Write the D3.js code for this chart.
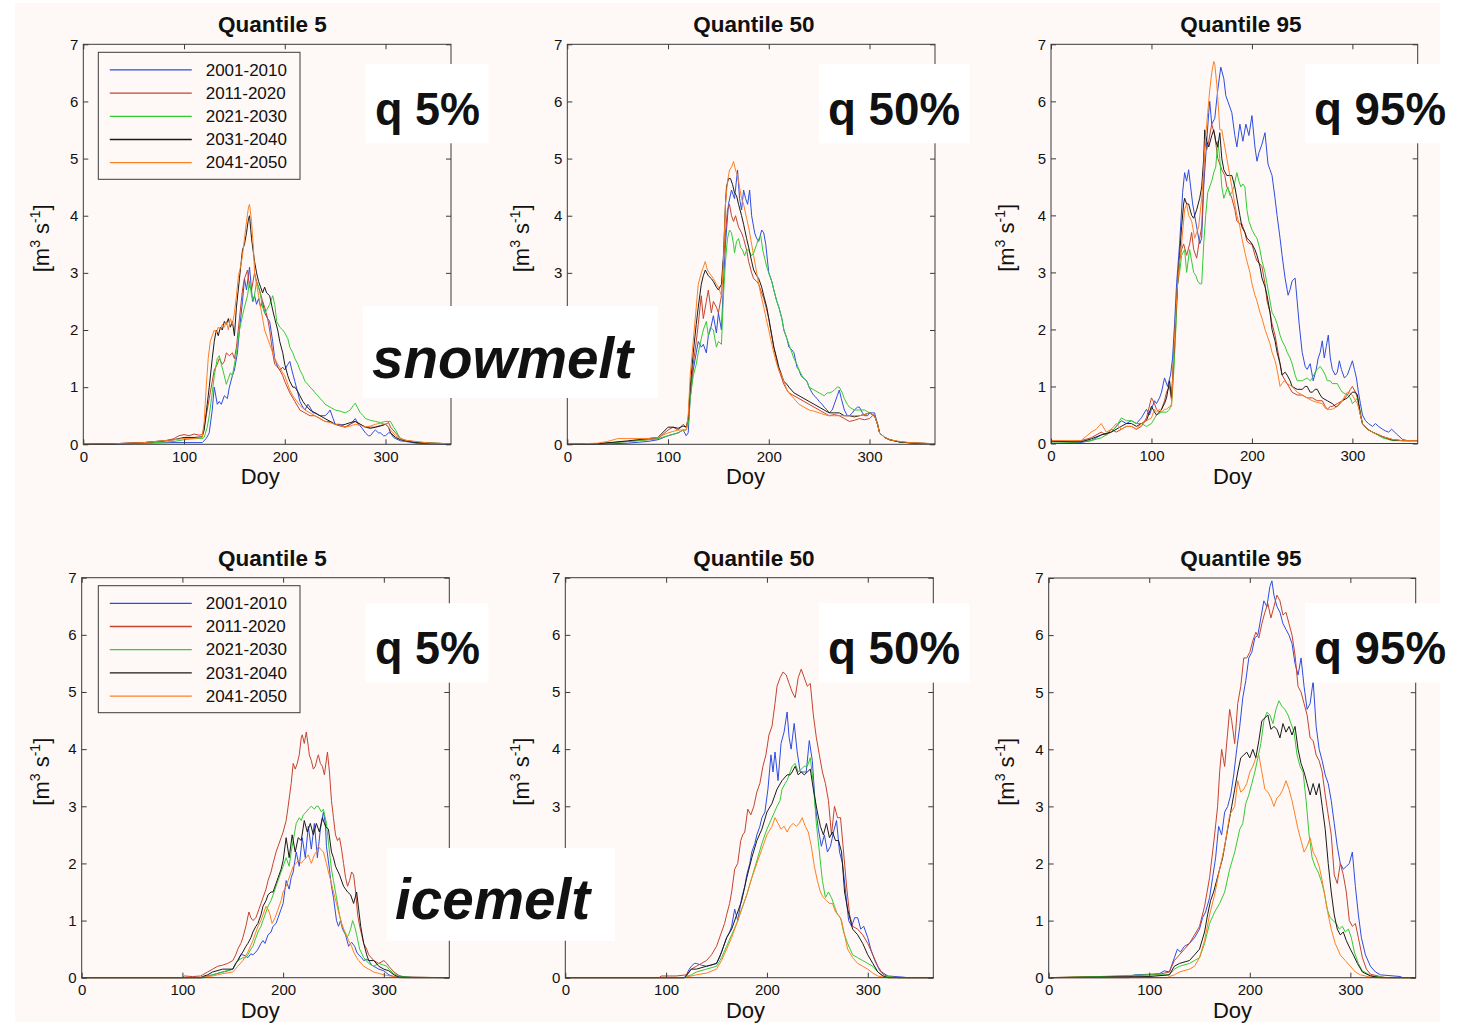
<!DOCTYPE html>
<html>
<head>
<meta charset="utf-8">
<script src="https://cdn.jsdelivr.net/npm/d3@7/dist/d3.min.js"></script>
<style>
  html, body { margin: 0; padding: 0; background: #ffffff; }
  svg { display: block; }
  text { font-family: "Liberation Sans", Arial, sans-serif; fill: #111; }
</style>
</head>
<body>
<div id="chart"></div>
<script>
// decades shown in every panel
const periods = ['2001-2010', '2011-2020', '2021-2030', '2031-2040', '2041-2050']
const lineColors = ['#2d4de0', '#c5432f', '#33cc33', '#1a1a1a', '#ff8022']

const titles = ['Quantile 5', 'Quantile 50', 'Quantile 95']
const xTicks = [0, 100, 200, 300]
const yTicks = [0, 1, 2, 3, 4, 5, 6, 7]
const tags = ['q 5%', 'q 50%', 'q 95%']
const rowLabels = ['snowmelt', 'icemelt']

// [day of year, discharge m3/s] per decade
const snowQ5 = [
  [[0,0],[30,0],[60,0.02],[90,0.03],[110,0.03],[118,0.03],[122,0.1],[125,0.2],[128,0.6],[130,1.0],[133,0.7],[135,0.75],[137,0.7],[140,0.85],[143,0.8],[145,1.0],[148,1.2],[150,1.3],[153,1.6],[155,2.0],[158,2.5],[160,2.9],[162,2.7],[165,3.1],[168,2.5],[170,2.6],[172,2.45],[174,2.55],[176,2.4],[178,2.5],[180,2.3],[183,2.2],[185,2.15],[188,1.8],[190,1.5],[193,1.35],[195,1.3],[198,1.35],[200,1.3],[203,1.4],[205,1.45],[207,1.3],[210,1.1],[213,0.9],[215,0.75],[218,0.65],[220,0.6],[223,0.7],[225,0.65],[228,0.55],[230,0.55],[235,0.5],[240,0.5],[243,0.55],[245,0.6],[248,0.45],[250,0.35],[255,0.35],[260,0.3],[265,0.35],[270,0.45],[273,0.35],[276,0.3],[280,0.2],[283,0.15],[285,0.15],[288,0.22],[290,0.25],[293,0.2],[295,0.2],[298,0.15],[300,0.15],[303,0.2],[305,0.2],[308,0.12],[310,0.1],[315,0.06],[320,0.05],[330,0.02],[340,0.01],[365,0]],
  [[0,0],[30,0.01],[60,0.03],[80,0.05],[90,0.1],[95,0.15],[100,0.17],[105,0.15],[110,0.18],[115,0.16],[118,0.17],[120,0.3],[123,0.6],[125,0.8],[128,1.1],[130,1.3],[133,1.4],[135,1.5],[138,1.4],[140,1.45],[142,1.6],[145,1.55],[148,1.6],[150,1.5],[152,1.7],[155,2.2],[158,2.7],[160,2.9],[163,3.05],[165,2.75],[167,2.7],[170,3.0],[172,2.85],[175,2.7],[178,2.5],[180,2.4],[183,2.2],[185,2.0],[188,1.6],[190,1.4],[193,1.35],[195,1.3],[198,1.2],[200,1.1],[205,0.9],[210,0.75],[215,0.6],[220,0.55],[225,0.5],[230,0.5],[235,0.45],[240,0.4],[245,0.4],[250,0.35],[255,0.32],[260,0.3],[265,0.35],[270,0.4],[275,0.35],[280,0.3],[285,0.3],[290,0.3],[295,0.33],[300,0.35],[303,0.38],[305,0.3],[310,0.2],[315,0.1],[320,0.07],[330,0.04],[345,0.02],[365,0.01]],
  [[0,0],[30,0.01],[60,0.02],[90,0.05],[100,0.08],[110,0.1],[118,0.1],[120,0.12],[123,0.3],[125,0.5],[128,0.9],[130,1.2],[133,1.5],[135,1.55],[137,1.4],[140,1.2],[142,1.05],[144,1.15],[146,1.25],[148,1.2],[150,1.4],[152,1.6],[155,2.0],[158,2.25],[160,2.4],[163,2.6],[165,2.85],[167,2.6],[169,2.5],[172,2.85],[174,2.75],[176,2.6],[178,2.4],[180,2.3],[182,2.35],[185,2.45],[188,2.6],[190,2.45],[192,2.15],[195,2.05],[198,2.0],[200,1.95],[203,1.85],[205,1.7],[208,1.6],[210,1.5],[213,1.4],[215,1.3],[218,1.2],[220,1.1],[223,1.05],[225,1.0],[228,0.95],[230,0.9],[233,0.85],[235,0.8],[238,0.75],[240,0.7],[245,0.65],[250,0.6],[255,0.58],[260,0.55],[263,0.58],[265,0.6],[268,0.68],[270,0.72],[272,0.65],[275,0.55],[278,0.5],[280,0.45],[285,0.42],[290,0.4],[295,0.38],[300,0.4],[305,0.4],[308,0.3],[310,0.25],[313,0.15],[315,0.1],[320,0.07],[330,0.04],[345,0.02],[365,0.01]],
  [[0,0],[30,0.01],[60,0.03],[90,0.08],[100,0.12],[110,0.12],[118,0.13],[120,0.25],[123,0.7],[125,1.0],[128,1.5],[130,1.8],[132,2.0],[134,1.9],[136,2.05],[138,2.0],[140,2.15],[142,2.1],[144,2.2],[146,2.05],[148,2.15],[150,1.9],[152,2.4],[155,2.9],[158,3.4],[160,3.5],[162,3.7],[164,3.95],[165,4.0],[167,3.6],[170,3.2],[172,3.0],[174,2.85],[176,2.75],[178,2.65],[180,2.75],[182,2.65],[185,2.6],[188,2.35],[190,2.2],[193,2.0],[195,1.8],[198,1.6],[200,1.4],[203,1.2],[205,1.1],[208,1.0],[210,1.0],[213,0.92],[215,0.85],[218,0.75],[220,0.7],[225,0.6],[230,0.55],[235,0.5],[240,0.45],[245,0.4],[250,0.35],[255,0.33],[260,0.35],[265,0.38],[270,0.4],[275,0.35],[280,0.3],[285,0.28],[290,0.3],[295,0.32],[300,0.35],[303,0.3],[305,0.2],[310,0.12],[315,0.08],[320,0.06],[330,0.03],[345,0.02],[365,0.01]],
  [[0,0],[30,0.01],[60,0.03],[90,0.08],[100,0.1],[110,0.1],[118,0.12],[120,0.4],[122,1.0],[124,1.5],[126,1.8],[128,1.9],[130,2.0],[132,1.95],[134,2.05],[136,2.0],[138,2.1],[140,2.05],[142,2.15],[144,2.0],[146,2.2],[148,2.1],[150,2.3],[152,2.6],[154,2.95],[156,3.1],[158,3.3],[160,3.6],[162,3.9],[164,4.15],[165,4.2],[167,3.9],[169,3.4],[170,3.0],[172,2.8],[174,2.6],[176,2.4],[178,2.2],[180,2.0],[183,1.85],[185,1.75],[188,1.6],[190,1.5],[193,1.4],[195,1.35],[198,1.25],[200,1.2],[203,1.05],[205,0.95],[208,0.85],[210,0.8],[215,0.68],[220,0.6],[225,0.55],[230,0.5],[235,0.45],[240,0.4],[245,0.38],[250,0.35],[255,0.33],[260,0.3],[265,0.32],[270,0.35],[275,0.33],[280,0.3],[285,0.32],[290,0.35],[295,0.37],[300,0.35],[303,0.3],[305,0.25],[310,0.15],[315,0.1],[320,0.07],[330,0.05],[345,0.02],[365,0.01]]
]

const snowQ50 = [
  [[0,0],[30,0],[60,0.02],[80,0.05],[90,0.08],[100,0.15],[110,0.2],[115,0.25],[118,0.15],[120,0.2],[122,0.8],[125,1.3],[128,1.6],[130,1.8],[133,1.7],[135,1.75],[138,1.6],[140,1.9],[142,2.0],[145,2.25],[148,1.95],[150,2.3],[153,2.0],[155,2.8],[157,3.5],[160,4.2],[163,4.45],[166,4.3],[169,4.8],[171,4.3],[173,4.1],[175,4.45],[177,4.3],[179,4.2],[181,4.45],[183,4.0],[186,3.7],[188,3.6],[190,3.55],[193,3.75],[195,3.7],[197,3.5],[200,3.0],[203,2.85],[205,2.7],[208,2.5],[210,2.4],[213,2.2],[215,2.0],[218,1.85],[220,1.7],[223,1.65],[225,1.6],[228,1.35],[230,1.3],[232,1.2],[235,1.15],[238,1.1],[240,1.0],[243,0.9],[245,0.85],[248,0.8],[250,0.75],[253,0.7],[255,0.65],[258,0.6],[260,0.55],[263,0.6],[265,0.7],[268,0.85],[270,0.95],[272,0.8],[275,0.6],[278,0.5],[280,0.5],[283,0.55],[285,0.6],[288,0.65],[290,0.65],[293,0.55],[295,0.5],[298,0.5],[300,0.55],[303,0.55],[305,0.55],[308,0.35],[310,0.2],[315,0.12],[320,0.08],[330,0.04],[345,0.02],[365,0.01]],
  [[0,0],[30,0.01],[60,0.05],[80,0.08],[90,0.1],[100,0.25],[105,0.3],[110,0.25],[115,0.35],[118,0.3],[120,0.4],[122,0.9],[125,1.4],[128,1.8],[130,2.1],[133,2.6],[135,2.2],[138,2.5],[140,2.7],[143,2.3],[145,2.5],[148,2.4],[150,2.3],[153,2.6],[155,3.2],[157,3.7],[159,4.1],[161,4.2],[163,4.0],[165,3.9],[167,4.0],[170,3.8],[173,3.7],[175,3.6],[178,3.4],[180,3.2],[183,3.0],[185,2.9],[188,2.85],[190,2.8],[193,2.65],[195,2.55],[198,2.35],[200,2.2],[203,1.9],[205,1.7],[208,1.45],[210,1.3],[213,1.15],[215,1.05],[218,0.95],[220,0.9],[225,0.85],[230,0.8],[235,0.75],[240,0.7],[245,0.65],[250,0.6],[255,0.55],[260,0.5],[265,0.52],[270,0.5],[275,0.45],[280,0.4],[285,0.42],[290,0.45],[295,0.43],[300,0.45],[303,0.5],[305,0.5],[308,0.35],[310,0.2],[315,0.12],[320,0.08],[330,0.04],[345,0.02],[365,0.01]],
  [[0,0],[30,0.01],[60,0.05],[80,0.08],[90,0.1],[100,0.15],[110,0.2],[115,0.25],[118,0.25],[120,0.35],[122,0.8],[125,1.2],[128,1.4],[130,1.6],[133,1.85],[135,2.0],[138,2.15],[140,1.9],[142,2.05],[145,2.0],[148,1.7],[150,1.8],[153,1.75],[155,2.6],[157,3.2],[159,3.6],[161,3.75],[163,3.7],[165,3.5],[166,3.35],[168,3.55],[170,3.6],[172,3.45],[174,3.4],[176,3.3],[178,3.4],[180,3.4],[183,3.3],[185,3.35],[188,3.5],[190,3.6],[192,3.65],[194,3.4],[196,3.25],[198,3.1],[200,3.0],[203,2.85],[205,2.7],[208,2.5],[210,2.4],[213,2.2],[215,2.0],[218,1.85],[220,1.75],[223,1.6],[225,1.5],[228,1.4],[230,1.3],[233,1.2],[235,1.15],[238,1.1],[240,1.0],[245,0.95],[250,0.9],[255,0.85],[258,0.9],[260,0.9],[263,0.92],[265,0.95],[268,1.0],[270,1.0],[273,0.9],[275,0.8],[278,0.7],[280,0.65],[285,0.6],[290,0.6],[295,0.6],[300,0.55],[305,0.5],[308,0.35],[310,0.2],[315,0.12],[320,0.08],[330,0.04],[345,0.02],[365,0.01]],
  [[0,0],[30,0.01],[60,0.06],[80,0.1],[90,0.12],[100,0.3],[105,0.3],[110,0.28],[115,0.32],[118,0.3],[120,0.45],[122,1.0],[125,1.6],[128,2.1],[130,2.4],[133,2.8],[135,2.95],[137,3.05],[140,2.95],[143,2.9],[145,2.85],[148,2.75],[150,2.7],[153,2.8],[155,3.3],[157,4.2],[158,4.5],[160,4.65],[162,4.65],[164,4.55],[166,4.4],[168,4.35],[170,4.2],[173,4.0],[175,3.85],[178,3.6],[180,3.45],[183,3.2],[185,3.05],[188,2.95],[190,2.9],[193,2.75],[195,2.6],[198,2.4],[200,2.2],[203,1.9],[205,1.7],[208,1.5],[210,1.35],[213,1.2],[215,1.1],[218,1.05],[220,1.0],[225,0.9],[230,0.85],[235,0.8],[240,0.75],[245,0.7],[250,0.65],[255,0.6],[260,0.55],[265,0.55],[270,0.55],[275,0.5],[280,0.5],[285,0.48],[290,0.5],[295,0.52],[300,0.55],[305,0.5],[308,0.35],[310,0.2],[315,0.12],[320,0.08],[330,0.04],[345,0.02],[365,0.01]],
  [[0,0],[30,0.02],[40,0.05],[50,0.1],[60,0.1],[80,0.1],[90,0.12],[100,0.2],[110,0.25],[115,0.25],[118,0.25],[120,0.5],[122,1.2],[125,1.8],[128,2.4],[130,2.8],[133,3.0],[135,3.1],[137,3.2],[139,3.05],[141,3.0],[143,2.95],[145,2.9],[148,2.8],[150,2.75],[153,2.6],[155,3.2],[157,4.2],[159,4.6],[161,4.8],[163,4.85],[165,4.95],[167,4.8],[169,4.7],[171,4.5],[173,4.3],[175,4.2],[178,3.95],[180,3.8],[183,3.5],[185,3.3],[188,3.0],[190,2.8],[193,2.55],[195,2.4],[198,2.15],[200,2.0],[203,1.75],[205,1.6],[208,1.4],[210,1.3],[213,1.2],[215,1.1],[218,0.95],[220,0.9],[225,0.8],[230,0.7],[235,0.65],[240,0.6],[245,0.58],[250,0.55],[255,0.52],[260,0.5],[265,0.5],[270,0.5],[275,0.5],[280,0.5],[285,0.5],[290,0.5],[295,0.52],[300,0.55],[305,0.5],[308,0.35],[310,0.2],[315,0.12],[320,0.08],[330,0.05],[340,0.03],[365,0.01]]
]

const snowQ95 = [
  [[0,0.03],[20,0.03],[30,0.02],[40,0.05],[50,0.15],[60,0.2],[65,0.3],[70,0.4],[75,0.35],[80,0.4],[85,0.35],[90,0.45],[95,0.6],[98,0.5],[100,0.6],[103,0.75],[105,0.7],[108,0.8],[110,0.9],[113,1.15],[116,1.0],[119,1.2],[121,1.5],[123,2.1],[125,2.8],[128,3.5],[131,4.4],[133,4.75],[135,4.6],[137,4.8],[139,4.5],[141,4.2],[143,4.0],[146,3.7],[148,3.5],[150,3.6],[152,4.5],[155,5.3],[157,5.8],[158,6.0],[160,5.6],[163,5.7],[166,6.2],[169,6.6],[172,6.4],[174,6.1],[176,6.0],[178,5.9],[180,5.8],[183,5.4],[185,5.2],[188,5.6],[191,5.3],[194,5.6],[197,5.4],[200,5.75],[203,5.2],[205,4.95],[207,5.1],[210,5.25],[213,5.45],[216,4.9],[218,4.8],[220,4.7],[223,4.3],[225,4.0],[228,3.6],[230,3.3],[233,2.9],[236,2.6],[238,2.7],[240,2.85],[243,2.9],[245,2.5],[247,2.1],[250,1.6],[253,1.35],[255,1.3],[258,1.4],[261,1.1],[264,1.3],[266,1.5],[268,1.6],[270,1.8],[272,1.5],[274,1.7],[276,1.9],[278,1.5],[280,1.3],[283,1.2],[285,1.25],[287,1.45],[289,1.3],[292,1.15],[295,1.2],[298,1.35],[300,1.45],[302,1.3],[304,1.15],[306,0.9],[308,0.7],[310,0.5],[313,0.4],[316,0.35],[320,0.3],[323,0.35],[326,0.3],[330,0.25],[333,0.22],[336,0.2],[339,0.25],[342,0.2],[345,0.15],[350,0.07],[355,0.05],[365,0.05]],
  [[0,0.05],[20,0.04],[30,0.05],[40,0.1],[50,0.2],[55,0.15],[60,0.25],[65,0.2],[70,0.25],[75,0.3],[80,0.3],[85,0.25],[90,0.3],[95,0.45],[100,0.8],[103,0.7],[105,0.6],[108,0.55],[110,0.6],[113,0.75],[115,0.9],[118,1.0],[120,0.75],[122,1.3],[124,2.0],[126,2.8],[128,3.2],[130,3.4],[132,3.5],[135,3.3],[138,3.5],[140,3.7],[142,3.4],[145,3.25],[148,3.6],[150,3.8],[152,4.6],[153,5.3],[155,5.15],[157,5.3],[160,5.6],[163,5.4],[166,5.0],[168,4.9],[170,4.8],[173,4.7],[175,4.5],[178,4.4],[180,4.3],[183,4.1],[185,3.9],[188,3.85],[190,3.85],[193,3.7],[195,3.55],[198,3.5],[200,3.5],[203,3.3],[205,3.2],[208,3.15],[210,3.1],[213,2.8],[215,2.5],[218,2.3],[220,2.1],[223,1.9],[225,1.7],[228,1.4],[230,1.2],[235,1.05],[240,0.9],[245,0.85],[250,0.85],[255,0.8],[260,0.8],[265,0.75],[270,0.75],[273,0.65],[275,0.6],[278,0.65],[280,0.65],[285,0.7],[290,0.75],[295,0.85],[298,0.95],[300,1.0],[303,0.9],[305,0.8],[308,0.5],[310,0.35],[315,0.25],[320,0.2],[330,0.12],[340,0.07],[350,0.05],[365,0.05]],
  [[0,0.03],[20,0.02],[30,0.03],[40,0.05],[50,0.1],[60,0.2],[65,0.3],[70,0.45],[75,0.4],[80,0.4],[85,0.35],[90,0.35],[95,0.3],[100,0.35],[105,0.5],[110,0.55],[115,0.55],[118,0.6],[120,0.7],[122,1.2],[124,1.9],[126,2.8],[128,3.0],[130,3.3],[133,3.4],[135,3.0],[138,3.4],[140,3.2],[142,3.0],[144,2.95],[146,2.85],[148,2.8],[150,2.8],[152,3.5],[154,4.0],[156,4.4],[158,4.5],[160,4.6],[162,4.75],[164,4.85],[166,5.3],[168,5.0],[170,4.5],[172,4.3],[174,4.4],[176,4.5],[178,4.35],[180,4.4],[182,4.5],[185,4.75],[187,4.6],[189,4.5],[191,4.55],[193,4.5],[195,4.1],[197,3.9],[200,3.75],[203,3.65],[205,3.6],[208,3.4],[210,3.2],[213,3.0],[215,2.8],[218,2.5],[220,2.3],[223,2.2],[225,2.1],[228,1.9],[230,1.8],[233,1.7],[235,1.6],[238,1.5],[240,1.4],[243,1.2],[245,1.1],[250,1.1],[255,1.15],[258,1.1],[260,1.15],[263,1.25],[265,1.3],[268,1.35],[270,1.3],[273,1.2],[275,1.1],[278,1.1],[280,1.05],[285,1.05],[288,0.95],[290,0.9],[295,0.85],[298,0.8],[300,0.7],[303,0.75],[305,0.8],[308,0.55],[310,0.35],[315,0.25],[320,0.2],[330,0.1],[340,0.05],[365,0.05]],
  [[0,0.04],[20,0.03],[30,0.03],[40,0.08],[50,0.15],[60,0.2],[70,0.3],[75,0.35],[80,0.35],[85,0.3],[90,0.35],[95,0.4],[100,0.65],[103,0.55],[105,0.5],[108,0.55],[110,0.6],[113,0.7],[115,0.8],[118,1.1],[120,0.8],[122,1.5],[124,2.2],[126,2.8],[128,3.3],[130,3.8],[132,4.2],[133,4.3],[135,4.2],[137,4.2],[140,4.0],[142,3.95],[145,4.1],[148,4.3],[150,4.5],[152,5.0],[153,5.5],[155,5.3],[157,5.2],[160,5.4],[162,5.5],[164,5.3],[166,5.2],[168,5.45],[170,5.0],[172,4.8],[175,4.7],[178,4.7],[180,4.7],[183,4.5],[185,4.3],[188,4.0],[190,3.8],[193,3.7],[195,3.6],[198,3.55],[200,3.5],[203,3.4],[205,3.3],[208,3.1],[210,2.9],[213,2.75],[215,2.6],[218,2.3],[220,2.0],[223,1.8],[225,1.6],[228,1.4],[230,1.2],[233,1.25],[235,1.2],[238,1.1],[240,1.0],[245,0.95],[250,0.95],[253,1.0],[255,1.0],[258,0.9],[260,0.9],[263,0.95],[265,0.95],[268,0.85],[270,0.8],[275,0.75],[280,0.7],[283,0.65],[285,0.65],[290,0.75],[295,0.8],[300,0.9],[303,0.9],[305,0.85],[308,0.5],[310,0.35],[315,0.25],[320,0.2],[330,0.12],[340,0.06],[350,0.05],[365,0.05]],
  [[0,0.05],[20,0.05],[30,0.05],[40,0.2],[45,0.25],[50,0.35],[55,0.2],[60,0.25],[65,0.35],[70,0.25],[75,0.3],[80,0.3],[85,0.25],[90,0.35],[95,0.4],[100,0.45],[103,0.6],[105,0.55],[108,0.6],[110,0.55],[113,0.6],[115,0.6],[118,0.65],[120,0.65],[122,1.5],[124,2.2],[126,2.8],[128,3.2],[130,3.5],[132,3.9],[133,4.1],[135,4.2],[137,4.0],[140,3.9],[142,3.7],[143,3.6],[145,3.7],[147,3.8],[150,4.3],[152,4.8],[153,5.2],[155,5.6],[156,5.8],[158,6.2],[160,6.5],[162,6.7],[163,6.65],[165,6.3],[167,5.8],[168,5.5],[170,5.5],[172,5.3],[175,5.0],[178,4.7],[180,4.5],[183,4.2],[185,4.0],[188,3.8],[190,3.6],[193,3.35],[195,3.2],[198,3.0],[200,2.8],[203,2.6],[205,2.5],[208,2.3],[210,2.2],[213,2.0],[215,1.9],[218,1.75],[220,1.6],[223,1.45],[225,1.3],[228,1.0],[230,1.05],[232,1.1],[235,1.05],[240,1.0],[245,0.9],[250,0.85],[255,0.8],[260,0.75],[265,0.72],[270,0.7],[273,0.62],[275,0.6],[278,0.6],[280,0.6],[285,0.65],[290,0.75],[293,0.85],[295,0.9],[298,0.88],[300,0.85],[303,0.75],[305,0.7],[308,0.5],[310,0.35],[315,0.25],[320,0.2],[330,0.12],[340,0.07],[350,0.05],[365,0.05]]
]

const iceQ5 = [
  [[0,0],[120,0],[125,0.03],[130,0.05],[140,0.1],[145,0.12],[150,0.15],[153,0.25],[155,0.3],[158,0.4],[160,0.4],[163,0.38],[165,0.35],[168,0.42],[170,0.4],[173,0.45],[175,0.5],[178,0.6],[180,0.65],[182,0.6],[185,0.75],[188,0.8],[190,0.9],[193,0.95],[195,1.05],[198,1.2],[200,1.3],[203,1.7],[206,1.55],[208,1.75],[210,1.85],[213,2.2],[216,1.95],[219,2.45],[222,2.1],[225,2.65],[228,2.25],[231,2.7],[234,2.1],[237,2.6],[240,2.9],[242,2.7],[243,2.3],[246,1.9],[248,1.6],[250,1.4],[253,1.0],[255,0.9],[257,1.0],[259,0.85],[262,0.75],[265,0.55],[268,0.62],[271,0.55],[273,0.45],[275,0.4],[278,0.35],[280,0.3],[283,0.32],[285,0.3],[288,0.22],[290,0.2],[295,0.15],[300,0.12],[305,0.05],[310,0.02],[320,0],[365,0]],
  [[0,0],[100,0],[102,0.03],[110,0.02],[118,0.03],[120,0.05],[125,0.1],[130,0.15],[135,0.2],[140,0.22],[145,0.25],[150,0.3],[153,0.4],[155,0.5],[158,0.6],[160,0.7],[163,0.9],[166,1.15],[168,1.05],[170,1.0],[173,1.05],[176,1.2],[178,1.3],[180,1.4],[183,1.55],[185,1.7],[188,1.85],[190,2.0],[193,2.2],[195,2.3],[198,2.45],[200,2.55],[203,2.75],[205,3.0],[208,3.4],[210,3.75],[212,3.65],[214,3.75],[216,3.9],[218,4.2],[219,4.25],[221,4.1],[223,4.3],[225,4.05],[226,3.9],[228,3.8],[230,3.65],[232,3.7],[234,3.85],[235,3.9],[237,3.75],[239,3.7],[241,3.55],[244,3.95],[246,3.6],[248,3.1],[250,2.8],[252,2.5],[254,2.4],[256,2.45],[258,2.25],[260,2.0],[262,1.75],[264,1.6],[266,1.7],[268,1.85],[270,1.8],[272,1.5],[274,1.1],[276,0.9],[278,0.75],[280,0.6],[283,0.5],[285,0.4],[290,0.3],[295,0.25],[298,0.28],[300,0.3],[303,0.25],[305,0.2],[310,0.1],[315,0.04],[320,0.01],[365,0]],
  [[0,0],[120,0],[125,0.03],[130,0.05],[140,0.1],[150,0.15],[153,0.25],[155,0.3],[158,0.33],[160,0.35],[163,0.35],[165,0.4],[168,0.5],[170,0.55],[173,0.7],[175,0.8],[178,0.9],[180,1.0],[183,1.15],[185,1.25],[188,1.35],[190,1.45],[193,1.6],[195,1.7],[198,1.85],[200,1.95],[203,2.1],[206,1.95],[208,2.2],[210,2.4],[213,2.7],[216,2.8],[218,2.75],[220,2.85],[223,2.9],[225,2.95],[228,3.0],[231,2.95],[233,3.0],[235,3.0],[238,2.9],[240,2.95],[243,2.7],[246,2.2],[248,1.9],[250,1.7],[253,1.4],[256,1.1],[258,0.95],[260,0.85],[263,0.7],[265,0.75],[267,0.85],[269,1.0],[271,0.9],[273,0.75],[276,0.5],[280,0.35],[285,0.25],[290,0.2],[295,0.25],[300,0.22],[303,0.2],[305,0.15],[310,0.07],[315,0.03],[320,0.02],[325,0.01],[330,0],[365,0]],
  [[0,0],[118,0],[120,0.02],[125,0.05],[130,0.1],[140,0.15],[150,0.15],[153,0.25],[155,0.3],[158,0.4],[160,0.45],[163,0.55],[165,0.6],[168,0.7],[170,0.8],[173,0.9],[175,0.95],[178,1.1],[180,1.25],[183,1.35],[185,1.45],[188,1.5],[190,1.5],[193,1.65],[195,1.75],[198,1.9],[200,2.05],[203,2.45],[206,2.1],[209,2.5],[212,2.2],[215,2.45],[218,2.4],[221,2.75],[224,2.55],[227,2.7],[230,2.5],[233,2.7],[236,2.55],[239,2.8],[242,2.65],[245,2.6],[248,2.2],[250,2.1],[252,1.95],[256,1.8],[260,1.6],[262,1.55],[264,1.5],[267,1.45],[270,1.3],[273,1.5],[275,1.2],[277,0.9],[280,0.6],[283,0.4],[285,0.3],[290,0.3],[295,0.2],[300,0.15],[305,0.12],[310,0.05],[315,0.01],[365,0]],
  [[0,0],[120,0],[125,0.02],[130,0.03],[140,0.07],[150,0.1],[155,0.2],[160,0.3],[165,0.45],[170,0.65],[175,0.9],[178,1.0],[180,1.1],[183,1.25],[185,1.2],[187,1.1],[189,0.95],[192,1.05],[195,1.2],[198,1.35],[200,1.5],[203,1.6],[205,1.7],[208,1.85],[210,1.95],[213,2.0],[215,2.05],[218,2.0],[220,2.05],[223,2.1],[225,2.15],[227,2.05],[228,2.0],[231,2.15],[233,2.2],[235,2.3],[237,2.25],[240,2.2],[243,2.0],[245,1.85],[248,1.65],[250,1.5],[253,1.3],[255,1.15],[258,0.95],[260,0.85],[263,0.75],[265,0.65],[268,0.55],[270,0.45],[273,0.35],[275,0.3],[280,0.2],[285,0.15],[290,0.1],[300,0.05],[310,0.02],[315,0],[365,0]]
]

const iceQ50 = [
  [[0,0],[118,0],[120,0.05],[123,0.15],[125,0.2],[128,0.25],[130,0.25],[135,0.22],[140,0.2],[145,0.22],[150,0.25],[153,0.35],[155,0.45],[158,0.6],[160,0.7],[163,0.8],[165,0.9],[168,1.2],[171,1.0],[173,1.2],[175,1.4],[178,1.6],[180,1.8],[183,2.0],[185,2.2],[188,2.35],[190,2.5],[193,2.65],[195,2.8],[198,2.9],[201,3.3],[204,3.9],[206,3.6],[208,3.95],[211,3.45],[214,4.1],[217,4.3],[220,4.65],[222,4.2],[224,4.0],[227,4.45],[230,3.95],[233,3.6],[236,3.6],[239,3.6],[242,4.15],[245,3.8],[248,3.0],[251,2.6],[254,2.3],[257,2.5],[260,2.2],[263,2.3],[266,2.55],[269,2.75],[272,2.2],[275,2.0],[278,1.5],[281,1.0],[284,0.9],[287,1.05],[290,1.05],[293,0.85],[296,0.9],[300,0.7],[303,0.5],[307,0.3],[312,0.12],[320,0.03],[335,0.01],[340,0],[365,0]],
  [[0,0],[93,0],[95,0.03],[110,0.03],[120,0.05],[125,0.15],[130,0.2],[135,0.25],[140,0.3],[145,0.4],[150,0.55],[155,0.8],[158,0.95],[160,1.1],[163,1.3],[165,1.5],[168,1.9],[171,2.0],[174,2.4],[176,2.5],[178,2.55],[181,2.95],[184,2.85],[187,3.0],[190,3.25],[193,3.4],[196,3.7],[199,3.9],[202,4.25],[205,4.4],[208,4.8],[210,5.1],[213,5.25],[216,5.35],[219,5.3],[222,5.15],[225,5.0],[228,4.9],[231,5.25],[234,5.4],[237,5.25],[240,5.1],[243,5.15],[246,4.6],[249,4.2],[252,3.9],[255,3.6],[258,3.4],[261,3.1],[264,2.5],[267,3.0],[270,2.8],[273,2.8],[276,2.2],[279,1.6],[282,1.1],[285,0.9],[290,0.85],[295,0.75],[300,0.6],[305,0.4],[310,0.2],[315,0.06],[320,0.02],[330,0],[365,0]],
  [[0,0],[118,0],[120,0.02],[125,0.05],[130,0.1],[140,0.15],[150,0.2],[155,0.35],[160,0.55],[165,0.75],[170,0.95],[175,1.2],[180,1.45],[185,1.75],[190,2.05],[195,2.35],[200,2.6],[205,2.8],[210,3.0],[213,3.1],[215,3.3],[218,3.4],[220,3.45],[223,3.6],[225,3.7],[228,3.75],[231,3.6],[234,3.65],[237,3.7],[240,3.7],[243,3.85],[246,3.4],[249,2.7],[252,2.2],[255,1.7],[258,1.4],[261,1.5],[264,1.4],[267,1.25],[270,1.1],[273,1.05],[276,0.8],[280,0.6],[285,0.4],[290,0.35],[295,0.3],[300,0.25],[305,0.2],[310,0.1],[315,0.03],[325,0.01],[330,0],[365,0]],
  [[0,0],[118,0],[120,0.03],[125,0.15],[130,0.15],[140,0.2],[150,0.25],[155,0.45],[160,0.7],[165,0.85],[170,1.1],[175,1.35],[180,1.75],[185,2.1],[190,2.4],[195,2.6],[200,2.9],[205,3.05],[210,3.3],[215,3.45],[220,3.55],[223,3.55],[225,3.6],[228,3.7],[231,3.55],[234,3.6],[237,3.55],[240,3.6],[243,3.65],[246,3.3],[250,2.9],[253,2.65],[256,2.5],[259,2.7],[262,2.45],[265,2.55],[268,2.4],[271,2.4],[274,2.2],[277,1.5],[280,1.2],[285,0.85],[290,0.75],[295,0.6],[300,0.4],[305,0.25],[310,0.1],[315,0.03],[320,0],[365,0]],
  [[0,0],[118,0],[120,0.01],[130,0.05],[140,0.08],[150,0.15],[155,0.3],[160,0.5],[165,0.7],[170,0.95],[175,1.2],[180,1.45],[185,1.75],[190,2.0],[195,2.25],[200,2.5],[205,2.65],[208,2.8],[211,2.7],[214,2.6],[217,2.65],[220,2.55],[223,2.65],[226,2.7],[229,2.65],[232,2.7],[235,2.8],[238,2.65],[241,2.55],[244,2.3],[247,1.95],[250,1.7],[253,1.5],[256,1.4],[259,1.35],[262,1.3],[265,1.3],[268,1.15],[271,1.1],[274,1.0],[277,0.75],[280,0.5],[285,0.35],[290,0.25],[295,0.2],[300,0.15],[305,0.08],[310,0.03],[315,0.01],[320,0],[365,0]]
]

const iceQ95 = [
  [[0,0],[80,0],[85,0.05],[100,0.06],[110,0.07],[115,0.12],[120,0.1],[125,0.35],[128,0.5],[131,0.45],[135,0.55],[140,0.6],[145,0.7],[150,0.85],[153,1.05],[156,1.15],[160,1.4],[163,1.75],[166,2.1],[169,2.65],[172,2.5],[175,2.9],[178,3.0],[181,3.2],[184,3.55],[187,4.0],[190,4.4],[193,4.9],[196,5.2],[199,5.6],[202,5.7],[205,5.95],[208,6.0],[211,6.3],[214,6.6],[217,6.5],[220,6.85],[222,6.95],[224,6.7],[227,6.5],[230,6.4],[233,6.2],[236,6.1],[239,6.0],[242,5.85],[245,5.5],[248,5.3],[251,5.6],[254,5.1],[257,4.7],[260,4.8],[263,5.2],[266,4.4],[269,4.0],[272,3.8],[275,3.55],[278,3.4],[281,3.1],[284,2.7],[287,2.3],[290,2.0],[293,1.9],[296,1.95],[299,2.0],[302,2.2],[305,1.6],[308,1.1],[311,0.7],[315,0.4],[320,0.2],[325,0.1],[330,0.05],[350,0.02],[352,0],[365,0]],
  [[0,0],[35,0.02],[60,0.02],[80,0.03],[100,0.05],[110,0.06],[120,0.1],[125,0.3],[130,0.4],[135,0.5],[140,0.6],[145,0.75],[150,0.9],[155,1.25],[160,1.75],[165,2.5],[168,3.0],[170,3.6],[172,4.0],[174,3.8],[175,3.7],[178,4.3],[180,4.7],[182,4.5],[185,4.1],[188,4.8],[191,5.1],[194,5.6],[197,5.6],[200,5.7],[203,5.9],[206,6.05],[209,5.95],[212,6.2],[215,6.4],[218,6.55],[221,6.3],[224,6.5],[227,6.7],[230,6.6],[233,6.35],[236,6.4],[239,6.2],[242,6.0],[245,5.65],[248,5.1],[251,5.0],[254,4.8],[257,4.6],[260,4.2],[263,4.15],[266,3.9],[269,3.8],[272,3.6],[275,3.2],[278,2.85],[281,2.5],[284,1.8],[287,1.65],[290,2.0],[293,1.8],[296,1.5],[299,1.0],[302,0.9],[305,0.95],[308,0.7],[312,0.35],[316,0.15],[320,0.06],[330,0.02],[335,0],[365,0]],
  [[0,0],[50,0.02],[80,0.04],[100,0.05],[120,0.05],[125,0.15],[130,0.2],[140,0.25],[145,0.3],[150,0.35],[155,0.6],[160,0.95],[165,1.15],[170,1.3],[175,1.5],[180,1.9],[185,2.2],[190,2.6],[193,2.7],[196,3.05],[199,3.2],[202,3.4],[205,3.6],[208,3.85],[211,4.1],[214,4.5],[217,4.65],[220,4.6],[223,4.45],[226,4.7],[229,4.85],[232,4.75],[235,4.7],[238,4.6],[241,4.45],[244,4.3],[247,3.9],[250,3.7],[253,3.6],[256,3.1],[259,2.5],[262,2.1],[265,1.95],[268,1.85],[271,1.7],[274,1.5],[277,1.2],[280,1.05],[283,1.0],[286,0.95],[289,0.85],[292,0.9],[295,0.8],[298,0.85],[301,0.7],[304,0.45],[308,0.25],[312,0.12],[320,0.04],[330,0.01],[340,0],[365,0]],
  [[0,0],[100,0.02],[120,0.05],[125,0.2],[130,0.25],[140,0.3],[145,0.4],[150,0.5],[155,0.8],[158,1.1],[161,1.35],[164,1.5],[167,1.7],[170,1.9],[173,2.1],[176,2.4],[179,2.7],[182,3.0],[185,3.3],[188,3.6],[191,3.85],[194,3.9],[197,3.95],[200,3.85],[203,4.0],[206,3.85],[209,4.15],[212,4.5],[215,4.55],[218,4.6],[221,4.35],[224,4.4],[227,4.35],[230,4.2],[233,4.45],[236,4.3],[239,4.4],[242,4.25],[245,4.4],[248,4.0],[251,3.75],[254,3.6],[257,3.4],[260,3.2],[263,3.4],[266,3.2],[269,3.4],[272,3.0],[275,2.6],[278,2.0],[281,1.5],[284,1.1],[287,0.85],[290,0.75],[293,0.8],[296,0.65],[300,0.5],[303,0.4],[307,0.25],[312,0.1],[320,0.03],[330,0],[365,0]],
  [[0,0],[118,0],[120,0.02],[125,0.05],[130,0.1],[140,0.15],[145,0.2],[150,0.35],[155,0.65],[160,1.1],[165,1.45],[170,1.9],[175,2.3],[180,2.85],[185,3.0],[188,3.45],[191,3.25],[194,3.3],[197,3.4],[200,3.6],[203,3.7],[206,3.85],[209,3.9],[212,3.6],[215,3.3],[218,3.25],[221,3.15],[224,3.0],[227,3.15],[230,3.2],[233,3.3],[236,3.45],[239,3.3],[242,3.1],[245,2.85],[248,2.6],[251,2.4],[254,2.2],[257,2.3],[260,2.45],[263,2.2],[266,2.1],[269,1.95],[272,1.7],[275,1.4],[278,1.1],[281,0.85],[285,0.6],[290,0.4],[295,0.3],[300,0.2],[305,0.1],[310,0.05],[320,0.01],[325,0],[365,0]]
]

const W = 1463, H = 1026
const bg = '#fef9f7'

const svg = d3.select('#chart').append('svg')
  .attr('width', W).attr('height', H)

svg.append('rect').attr('x', 0).attr('y', 0).attr('width', W).attr('height', H).attr('fill', '#ffffff')
svg.append('rect').attr('x', 15).attr('y', 3).attr('width', 1425).attr('height', 1019).attr('fill', bg)

// white label boxes that sit on top of the figure
const rowBoxes = [
  {x: 363, y: 306, w: 295, h: 92, tx: 372, ty: 378, tl: 261},
  {x: 386.7, y: 848, w: 228.3, h: 92.7, tx: 395, ty: 918.5, tl: 195}
]
function underBox(px, py, row) {
  let b = rowBoxes[row]
  return px > b.x && px < b.x + b.w && py > b.y && py < b.y + b.h
}

// panel frames in pixels, row by row
const cols = [
  {titleX: 272.5, doyX: 260.3, ylabX: 42.5},
  {titleX: 754, doyX: 745.5, ylabX: 522.5},
  {titleX: 1241, doyX: 1232.5, ylabX: 1007.5}
]
const panels = [
  {data: snowQ5, row: 0, col: 0, left: 83.3, right: 451, top: 44.3, bottom: 444.3},
  {data: snowQ50, row: 0, col: 1, left: 567.3, right: 935, top: 44.3, bottom: 444.3},
  {data: snowQ95, row: 0, col: 2, left: 1051, right: 1417.7, top: 44.3, bottom: 443.5},
  {data: iceQ5, row: 1, col: 0, left: 81.7, right: 449.3, top: 577.7, bottom: 977.7},
  {data: iceQ50, row: 1, col: 1, left: 565.3, right: 933.3, top: 577.7, bottom: 977.7},
  {data: iceQ95, row: 1, col: 2, left: 1048.7, right: 1415.7, top: 578, bottom: 977.7}
]

const axisColor = '#3a3a3a'

panels.forEach(function (p) {
  let g = svg.append('g')
  let x = d3.scaleLinear().domain([0, 365]).range([p.left, p.right])
  let y = d3.scaleLinear().domain([0, 7]).range([p.bottom, p.top])

  // lines
  let line = d3.line().x(d => x(d[0])).y(d => y(d[1]))
  p.data.forEach(function (series, i) {
    g.append('path')
      .attr('d', line(series))
      .attr('fill', 'none')
      .attr('stroke', lineColors[i])
      .attr('stroke-width', 1)
      .attr('stroke-linejoin', 'round')
  })

  // frame
  g.append('rect')
    .attr('x', p.left).attr('y', p.top)
    .attr('width', p.right - p.left).attr('height', p.bottom - p.top)
    .attr('fill', 'none').attr('stroke', axisColor).attr('stroke-width', 1)

  // y labels hidden under a pasted box are left out
  let yShown = yTicks.filter(v => !underBox(p.left - 8, y(v), p.row))

  // axes, ticks pointing inward
  let fmt = d3.format('d')
  let bottomAxis = d3.axisBottom(x).tickValues(xTicks).tickSizeInner(-5).tickSizeOuter(0).tickPadding(7).tickFormat(fmt)
  let topAxis = d3.axisTop(x).tickValues(xTicks).tickSizeInner(-5).tickSizeOuter(0).tickFormat('')
  let leftTicks = d3.axisLeft(y).tickValues(yTicks).tickSizeInner(-5).tickSizeOuter(0).tickFormat('')
  let leftLabels = d3.axisLeft(y).tickValues(yShown).tickSize(0).tickPadding(5).tickFormat(fmt)
  let rightAxis = d3.axisRight(y).tickValues(yTicks).tickSizeInner(-5).tickSizeOuter(0).tickFormat('')

  let axes = [
    [bottomAxis, `translate(0,${p.bottom})`],
    [topAxis, `translate(0,${p.top})`],
    [leftTicks, `translate(${p.left},0)`],
    [leftLabels, `translate(${p.left},0)`],
    [rightAxis, `translate(${p.right},0)`]
  ]
  axes.forEach(function (a) {
    let ag = g.append('g').attr('transform', a[1]).call(a[0])
    ag.select('.domain').remove()
    ag.selectAll('line').attr('stroke', axisColor)
    ag.selectAll('text')
      .attr('font-family', '"Liberation Sans", Arial, sans-serif')
      .attr('font-size', 15).attr('fill', '#111')
  })

  let c = cols[p.col]
  // title
  g.append('text')
    .attr('x', c.titleX).attr('y', p.top - 12)
    .attr('text-anchor', 'middle')
    .attr('font-size', 22.5).attr('font-weight', 'bold')
    .text(titles[p.col])

  // x label
  g.append('text')
    .attr('x', c.doyX).attr('y', p.bottom + 40)
    .attr('text-anchor', 'middle')
    .attr('font-size', 22)
    .text('Doy')

  // y label with superscripts
  let cy = (p.top + p.bottom) / 2 - 6
  let yl = g.append('text')
    .attr('transform', `translate(${c.ylabX + 6},${cy}) rotate(-90)`)
    .attr('text-anchor', 'middle')
    .attr('font-size', 22)
  yl.append('tspan').text('[m')
  yl.append('tspan').attr('font-size', 14).attr('dy', -9).text('3')
  yl.append('tspan').attr('dy', 9).text(' s')
  yl.append('tspan').attr('font-size', 14).attr('dy', -9).text('-1')
  yl.append('tspan').attr('dy', 9).text(']')

  // legend in the first column
  if (p.col === 0) {
    let lx = 98.3, ly = p.top + 8, lw = 201.7, lh = 127
    let lg = g.append('g')
    lg.append('rect')
      .attr('x', lx).attr('y', ly).attr('width', lw).attr('height', lh)
      .attr('fill', bg).attr('stroke', axisColor).attr('stroke-width', 1)
    periods.forEach(function (name, i) {
      let ry = ly + 17.6 + i * 23.2
      lg.append('line')
        .attr('x1', lx + 11.5).attr('x2', lx + 93.5)
        .attr('y1', ry).attr('y2', ry)
        .attr('stroke', lineColors[i]).attr('stroke-width', 1.3)
      lg.append('text')
        .attr('x', lx + 107.4).attr('y', ry + 5.7)
        .attr('font-size', 17)
        .text(name)
    })
  }
})

// white label boxes pasted over the figure
const bigFont = '"Open Sans", "Noto Sans", "DejaVu Sans", sans-serif'
const tagBoxes = [
  {x: 365.7, w: 122.6, tx: 375, tl: 105},
  {x: 819, w: 150.3, tx: 828, tl: 132},
  {x: 1305, w: 135, tx: 1314, tl: 132}
]
const rowOffsets = [0, 539.3]
rowOffsets.forEach(function (dy) {
  tagBoxes.forEach(function (b, i) {
    svg.append('rect')
      .attr('x', b.x).attr('y', 64 + dy).attr('width', b.w).attr('height', 79.3)
      .attr('fill', '#ffffff')
    svg.append('text')
      .attr('x', b.tx).attr('y', 125 + dy)
      .attr('font-family', bigFont).attr('font-weight', 'bold')
      .attr('font-size', 46)
      .attr('textLength', b.tl).attr('lengthAdjust', 'spacingAndGlyphs')
      .text(tags[i])
  })
})

rowBoxes.forEach(function (b, i) {
  svg.append('rect')
    .attr('x', b.x).attr('y', b.y).attr('width', b.w).attr('height', b.h)
    .attr('fill', '#ffffff')
  svg.append('text')
    .attr('x', b.tx).attr('y', b.ty)
    .attr('font-family', bigFont).attr('font-weight', 'bold').attr('font-style', 'italic')
    .attr('font-size', 57)
    .attr('textLength', b.tl).attr('lengthAdjust', 'spacingAndGlyphs')
    .text(rowLabels[i])
})
</script>
</body>
</html>
